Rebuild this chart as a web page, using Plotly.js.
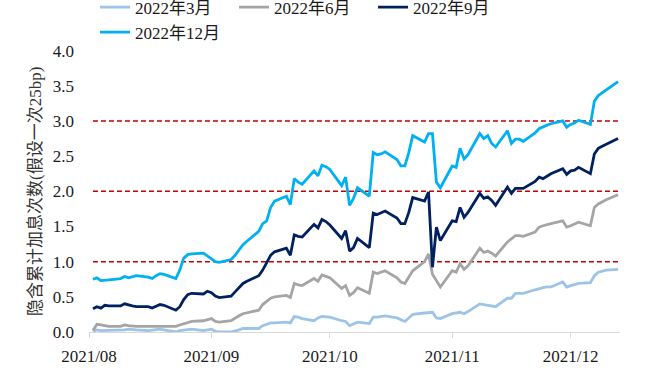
<!DOCTYPE html>
<html>
<head>
<meta charset="utf-8">
<script src="https://cdn.plot.ly/plotly-3.0.1.min.js"></script>
<style>
html,body{margin:0;padding:0;background:#fff;}
#chart{width:660px;height:386px;}
#chart svg text{font-family:"Liberation Serif","Times New Roman","Noto Sans CJK SC",serif !important;}
</style>
</head>
<body>
<div id="chart"></div>
<script>
// Trading dates (2021)
const dates = [
  "08-02","08-03","08-04","08-05","08-06","08-09","08-10","08-11","08-12","08-13","08-16","08-17","08-18","08-19","08-20","08-23","08-24","08-25","08-26","08-27","08-30","08-31",
  "09-01","09-02","09-03","09-06","09-07","09-08","09-09","09-10","09-13","09-14","09-15","09-16","09-17","09-20","09-21","09-22","09-23","09-24","09-27","09-28","09-29","09-30",
  "10-01","10-04","10-05","10-06","10-07","10-08","10-11","10-12","10-13","10-14","10-15","10-18","10-19","10-20","10-21","10-22","10-25","10-26","10-27","10-28","10-29",
  "11-01","11-02","11-03","11-04","11-05","11-08","11-09","11-10","11-11","11-12","11-15","11-16","11-17","11-18","11-19","11-22","11-23","11-24","11-25","11-26","11-29","11-30",
  "12-01","12-02","12-03","12-06","12-07","12-08","12-09","12-10","12-13"
].map(d => "2021-" + d);

const seriesNames = ["2022年3月", "2022年6月", "2022年9月", "2022年12月"];

const mar2022 = [
  .01,.03,.02,.02,.02,.02,.03,.04,.03,.03,.02,.03,.03,.04,.03,.00,.02,.03,.04,.04,.02,.03,
  .04,.01,.00,.00,.01,.03,.05,.05,.05,.09,.11,.13,.13,.14,.13,.22,.21,.19,.16,.20,.22,.22,
  .21,.16,.15,.09,.12,.14,.12,.21,.21,.22,.23,.20,.18,.15,.20,.25,.27,.28,.28,.20,.19,
  .26,.27,.28,.26,.29,.40,.39,.39,.38,.36,.48,.48,.55,.55,.55,.60,.62,.63,.64,.64,.71,.64,
  .66,.67,.69,.70,.80,.85,.87,.88,.89
];
const jun2022 = [
  .02,.11,.10,.09,.08,.08,.10,.09,.08,.08,.08,.08,.09,.09,.09,.08,.10,.12,.14,.15,.16,.18,
  .19,.15,.14,.16,.20,.23,.26,.27,.31,.39,.44,.48,.50,.52,.49,.69,.67,.66,.76,.72,.81,.79,
  .77,.62,.66,.52,.56,.63,.55,.85,.83,.85,.87,.77,.71,.69,.78,.87,1.00,1.11,.82,.72,.64,
  .87,.85,.97,.89,.94,1.19,1.13,1.15,1.12,1.08,1.28,1.33,1.37,1.37,1.36,1.42,1.49,1.51,1.52,1.54,1.58,1.49,
  1.51,1.53,1.56,1.51,1.77,1.82,1.85,1.88,1.95
];
const sep2022 = [
  .33,.36,.34,.38,.37,.37,.40,.38,.37,.36,.36,.34,.37,.39,.38,.31,.36,.46,.53,.55,.54,.58,
  .56,.51,.49,.51,.57,.63,.69,.72,.80,.88,.99,1.09,1.14,1.19,1.09,1.38,1.36,1.35,1.53,1.48,1.60,1.57,
  1.52,1.33,1.44,1.15,1.20,1.33,1.20,1.69,1.67,1.69,1.72,1.62,1.54,1.54,1.70,1.91,1.86,1.99,0.92,1.49,1.30,
  1.58,1.57,1.77,1.63,1.70,1.97,1.90,1.92,1.87,1.80,2.06,1.97,2.04,2.04,2.04,2.14,2.20,2.18,2.21,2.25,2.32,2.24,
  2.29,2.30,2.34,2.25,2.53,2.61,2.64,2.67,2.75
];
const dec2022 = [
  .75,.77,.73,.74,.74,.76,.79,.77,.78,.80,.78,.76,.80,.83,.82,.76,.88,1.05,1.10,1.11,1.12,1.08,
  1.05,1.00,.99,1.03,1.09,1.17,1.24,1.29,1.43,1.54,1.58,1.77,1.86,1.93,1.81,2.18,2.13,2.10,2.29,2.22,2.37,2.35,
  2.31,2.08,2.20,1.80,1.90,2.05,1.93,2.55,2.52,2.53,2.56,2.45,2.36,2.36,2.55,2.79,2.70,2.82,2.82,2.13,2.05,
  2.36,2.34,2.61,2.46,2.52,2.82,2.75,2.79,2.68,2.63,2.86,2.68,2.74,2.74,2.71,2.83,2.89,2.92,2.94,2.96,3.00,2.91,
  2.95,2.97,3.01,2.95,3.28,3.36,3.40,3.45,3.56
];

const refLevels = [1, 2, 3];
const yTickVals = [0, 0.5, 1, 1.5, 2, 2.5, 3, 3.5, 4];

const colors = ["#9DC3E6", "#A5A5A5", "#002060", "#00B0F0"];
const allSeries = [mar2022, jun2022, sep2022, dec2022];

const FONT = "Liberation Serif";

const traces = allSeries.map((vals, i) => ({
  type: "scatter",
  mode: "lines",
  name: seriesNames[i],
  x: dates,
  y: vals,
  line: {color: colors[i], width: 2.8}
}));

const shapes = refLevels.map(v => ({
  type: "line",
  xref: "x", yref: "y",
  x0: dates[0], x1: dates[dates.length - 1],
  y0: v, y1: v,
  line: {color: "#C00000", width: 1.5, dash: "5px,3px"},
  layer: "below"
}));

const layout = {
  width: 660, height: 386,
  margin: {l: 89, r: 40, t: 50, b: 54},
  paper_bgcolor: "#ffffff",
  plot_bgcolor: "#ffffff",
  showlegend: true,
  legend: {
    orientation: "h",
    xref: "container", yref: "container",
    x: 0.144, y: 0.948, xanchor: "left", yanchor: "middle",
    entrywidth: 94,
    font: {family: FONT, size: 17, color: "#1a1a1a"},
    bgcolor: "rgba(0,0,0,0)"
  },
  xaxis: {
    type: "date",
    range: ["2021-08-01", "2021-12-13 12:00"],
    tick0: "2021-08-01",
    dtick: "M1",
    tickformat: "%Y/%m",
    ticks: "outside",
    ticklen: 5,
    tickcolor: "#d9d9d9",
    showline: true,
    linecolor: "#d9d9d9",
    linewidth: 1,
    showgrid: false,
    zeroline: false,
    ticklabelstandoff: 4,
    tickfont: {family: FONT, size: 17, color: "#1a1a1a"}
  },
  yaxis: {
    range: [0, 4],
    tickvals: yTickVals,
    tickformat: ".1f",
    showgrid: false,
    zeroline: false,
    showline: false,
    ticks: "",
    ticklabelstandoff: 14,
    tickfont: {family: FONT, size: 17, color: "#1a1a1a"},
    title: {
      text: "隐含累计加息次数(假设一次25bp)",
      font: {family: FONT, size: 17, color: "#333333"},
      standoff: 6
    }
  },
  shapes: shapes
};

Plotly.newPlot("chart", traces, layout, {displayModeBar: false, staticPlot: true});
</script>
</body>
</html>
